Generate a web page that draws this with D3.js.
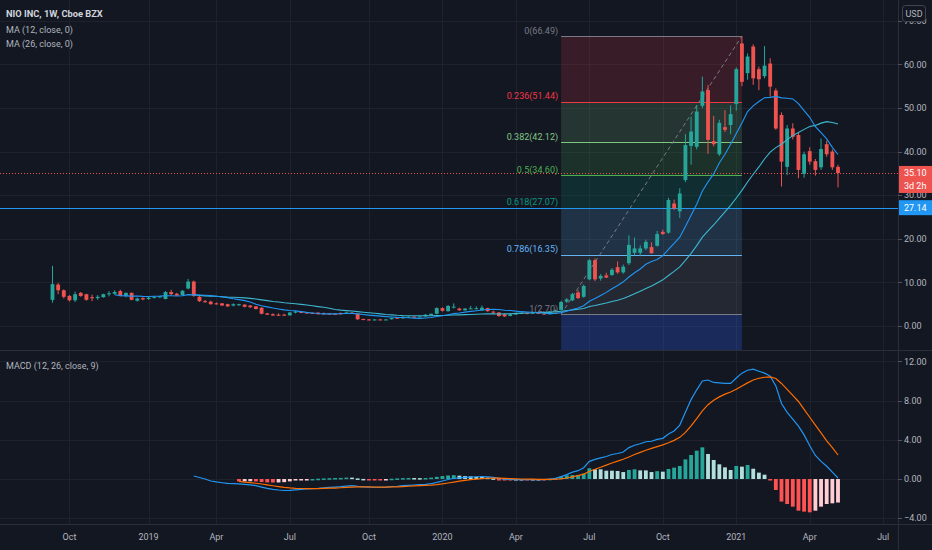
<!DOCTYPE html>
<html>
<head>
<meta charset="utf-8">
<script src="https://cdn.jsdelivr.net/npm/d3@7"></script>
<style>
  html, body { margin: 0; padding: 0; background: #131722; }
  svg { display: block; font-family: Roboto, "Liberation Sans", sans-serif; }
</style>
</head>
<body>
<svg id="drawing_region"></svg>
<script>
// weekly bars, NIO INC 1W
const firstWeek = "2018-09-10";
const afterLastWeek = "2021-05-17";

const opens = [
  6.00, 9.50, 8.20, 6.90, 5.90, 7.60, 7.30, 6.60, 6.40, 6.60,
  7.30, 7.40, 8.00, 6.90, 7.60, 5.80, 6.40, 6.20, 6.50, 6.60,
  6.20, 7.80, 7.40, 7.10, 8.60, 10.20, 6.70, 5.70, 5.60, 5.20,
  5.20, 5.00, 4.70, 4.80, 4.90, 4.70, 4.50, 4.20, 2.90, 2.70,
  2.60, 2.60, 2.45, 3.20, 3.30, 3.10, 3.00, 3.05, 2.90, 2.85,
  2.80, 3.00, 2.95, 3.05, 2.85, 1.60, 1.50, 1.45, 1.50, 1.45,
  1.55, 1.90, 1.75, 2.05, 2.15, 2.10, 2.20, 2.45, 2.80, 4.10,
  3.40, 4.40, 4.00, 3.60, 4.00, 3.95, 3.60, 4.10, 3.30, 3.10,
  2.65, 2.30, 2.70, 2.85, 3.00, 2.90, 3.05, 2.85, 2.70, 3.30,
  3.70, 5.60, 5.90, 7.70, 6.70, 10.70, 15.10, 10.90, 11.60, 11.70,
  13.50, 12.30, 14.40, 16.80, 16.80, 17.80, 18.10, 18.40, 21.60, 21.40,
  28.10, 26.30, 33.50, 41.30, 41.10, 50.50, 54.10, 42.40, 39.40, 45.60,
  46.10, 50.90, 64.80, 58.00, 64.10, 58.90, 57.30, 60.20, 54.00, 48.40,
  36.50, 45.30, 43.80, 34.90, 40.10, 37.80, 36.40, 41.70, 40.00, 36.50
];
const highs = [
  13.80, 9.90, 8.40, 7.10, 7.90, 7.80, 7.40, 7.20, 7.10, 7.40,
  8.00, 8.20, 8.30, 7.70, 7.70, 6.50, 6.60, 6.70, 6.90, 6.90,
  8.00, 8.30, 7.60, 8.20, 10.80, 10.40, 6.90, 6.00, 5.80, 5.40,
  5.30, 5.10, 5.20, 5.10, 5.00, 4.80, 4.60, 4.30, 3.00, 2.90,
  2.90, 2.80, 3.20, 3.50, 3.40, 3.20, 3.10, 3.20, 3.10, 3.00,
  2.95, 3.10, 3.25, 3.20, 2.90, 1.70, 1.60, 1.60, 1.65, 1.60,
  1.95, 1.95, 2.15, 2.20, 2.25, 2.30, 2.70, 2.85, 4.30, 4.30,
  4.80, 5.20, 4.20, 4.10, 4.60, 4.50, 4.70, 4.20, 3.50, 3.20,
  2.90, 2.90, 3.00, 3.10, 3.10, 3.20, 3.20, 2.95, 3.40, 3.80,
  5.80, 6.40, 7.60, 8.20, 9.50, 15.40, 15.50, 11.90, 12.20, 13.30,
  14.80, 14.10, 20.80, 20.30, 18.50, 19.80, 19.20, 21.80, 22.10, 29.40,
  29.00, 31.60, 44.00, 48.00, 50.70, 57.20, 55.30, 48.20, 47.30, 49.50,
  50.60, 59.30, 66.49, 62.50, 64.60, 59.50, 64.20, 61.40, 54.50, 49.00,
  46.10, 46.50, 44.50, 40.00, 41.00, 38.30, 43.00, 42.50, 40.50, 37.00
];
const lows = [
  5.35, 7.30, 6.30, 5.60, 5.50, 6.70, 5.80, 5.70, 6.00, 6.50,
  6.80, 7.20, 6.80, 6.60, 5.90, 5.60, 5.90, 6.00, 6.30, 6.40,
  6.10, 7.10, 6.90, 7.00, 8.40, 6.70, 5.50, 5.30, 4.90, 4.90,
  4.60, 4.40, 4.50, 4.60, 4.30, 4.20, 3.80, 2.70, 2.55, 2.35,
  2.30, 2.35, 2.40, 2.90, 2.95, 2.85, 2.75, 2.65, 2.70, 2.70,
  2.65, 2.65, 2.90, 2.80, 1.40, 1.35, 1.32, 1.30, 1.35, 1.35,
  1.50, 1.70, 1.70, 1.95, 2.00, 2.05, 2.15, 2.35, 2.70, 3.30,
  3.30, 4.00, 3.50, 3.50, 3.90, 3.80, 3.50, 3.30, 2.70, 2.10,
  2.11, 2.25, 2.55, 2.75, 2.70, 2.80, 2.75, 2.60, 2.65, 3.20,
  3.60, 5.30, 5.70, 6.20, 6.50, 10.50, 10.30, 10.40, 11.00, 11.50,
  12.00, 12.00, 14.00, 16.20, 16.00, 17.40, 16.60, 18.20, 20.90, 21.20,
  26.60, 24.80, 33.00, 37.00, 40.50, 50.00, 39.50, 41.20, 39.00, 44.50,
  44.00, 49.40, 55.00, 56.50, 55.30, 54.10, 56.80, 52.60, 45.00, 32.00,
  34.60, 42.80, 33.90, 34.00, 37.00, 34.50, 35.80, 38.80, 35.80, 31.80
];
const closes = [
  9.60, 8.20, 6.70, 5.90, 7.30, 6.90, 6.00, 6.40, 6.70, 7.30,
  7.50, 7.80, 6.90, 7.60, 6.00, 6.30, 6.10, 6.50, 6.70, 6.80,
  7.80, 7.30, 7.00, 8.10, 10.20, 6.90, 5.70, 5.50, 5.00, 5.00,
  4.70, 4.50, 5.00, 5.00, 4.40, 4.30, 3.90, 2.80, 2.60, 2.40,
  2.45, 2.40, 3.10, 3.30, 3.00, 2.90, 2.80, 2.70, 2.85, 2.80,
  2.75, 2.70, 3.10, 2.90, 1.55, 1.45, 1.40, 1.50, 1.45, 1.50,
  1.85, 1.75, 2.10, 2.15, 2.10, 2.20, 2.60, 2.80, 4.10, 3.50,
  4.60, 4.45, 3.60, 4.00, 4.05, 4.10, 4.20, 3.40, 3.10, 2.30,
  2.20, 2.70, 2.85, 3.00, 2.85, 3.05, 2.80, 2.70, 3.30, 3.60,
  5.50, 6.10, 7.30, 6.40, 9.20, 15.10, 10.70, 11.50, 11.10, 12.90,
  12.30, 13.60, 18.60, 17.80, 17.80, 19.30, 16.70, 21.10, 21.10, 28.90,
  27.00, 30.40, 41.50, 44.60, 49.20, 53.80, 42.70, 41.70, 46.60, 45.00,
  48.60, 58.90, 56.00, 61.80, 56.80, 56.60, 59.70, 54.90, 45.30, 37.70,
  45.30, 43.40, 35.80, 39.40, 37.70, 35.80, 40.60, 39.40, 36.40, 35.10
];

// MA (12, close, 0), first value on bar 11
const ma12Start = 11;
const ma12 = [
  7.19, 6.97, 6.92, 6.86, 6.89, 6.79, 6.76, 6.82, 6.85, 6.94,
  6.94, 6.90, 6.93, 7.20, 7.14, 7.12, 7.05, 6.96, 6.83, 6.67,
  6.48, 6.24, 6.05, 5.83, 5.52, 4.99, 4.65, 4.39, 4.13, 3.92,
  3.70, 3.57, 3.47, 3.30, 3.13, 3.00, 2.86, 2.78, 2.78, 2.79,
  2.81, 2.87, 2.91, 2.78, 2.63, 2.49, 2.38, 2.26, 2.16, 2.08,
  1.99, 1.94, 1.89, 1.81, 1.75, 1.84, 1.95, 2.18, 2.34, 2.60,
  2.85, 3.00, 3.18, 3.35, 3.51, 3.68, 3.78, 3.83, 3.78, 3.63,
  3.56, 3.41, 3.29, 3.23, 3.15, 3.05, 2.93, 2.85, 2.87, 3.07,
  3.39, 3.81, 4.12, 4.65, 5.66, 6.31, 7.02, 7.71, 8.56, 9.31,
  10.14, 11.23, 12.21, 13.08, 14.16, 14.78, 15.28, 16.15, 17.60, 18.93,
  20.38, 22.82, 25.40, 27.95, 30.95, 33.03, 34.89, 37.38, 39.38, 41.67,
  44.17, 46.58, 49.20, 50.48, 51.48, 52.35, 52.44, 52.66, 52.33, 52.22,
  52.08, 51.02, 49.39, 47.87, 45.70, 44.35, 42.92, 40.98, 39.33
];
// MA (26, close, 0), first value on bar 25
const ma26Start = 25;
const ma26 = [
  7.17, 7.02, 6.92, 6.85, 6.82, 6.72, 6.63, 6.59, 6.53, 6.45,
  6.33, 6.19, 6.00, 5.83, 5.63, 5.50, 5.35, 5.23, 5.11, 4.97,
  4.82, 4.63, 4.45, 4.29, 4.08, 3.80, 3.64, 3.54, 3.44, 3.30,
  3.17, 3.04, 2.93, 2.79, 2.65, 2.56, 2.46, 2.39, 2.36, 2.34,
  2.34, 2.34, 2.36, 2.40, 2.40, 2.47, 2.53, 2.56, 2.61, 2.65,
  2.70, 2.76, 2.78, 2.78, 2.76, 2.79, 2.83, 2.89, 2.95, 3.00,
  3.06, 3.10, 3.13, 3.18, 3.24, 3.37, 3.52, 3.70, 3.84, 4.03,
  4.48, 4.71, 4.98, 5.27, 5.62, 5.93, 6.30, 6.85, 7.41, 7.97,
  8.63, 9.18, 9.89, 10.59, 11.59, 12.52, 13.57, 15.06, 16.67, 18.43,
  20.37, 21.80, 23.17, 24.68, 26.16, 27.68, 29.36, 31.10, 33.04, 34.80,
  36.48, 38.30, 39.89, 40.92, 41.68, 42.74, 43.67, 44.40, 45.10, 45.74,
  46.01, 46.53, 46.88, 46.68, 46.32
];

// MACD (12, 26, close, 9)
const macdStart = 25;
const macdLine = [
  0.31, 0.15, 0.00, -0.20, -0.30, -0.38, -0.45, -0.48, -0.50, -0.55,
  -0.60, -0.68, -0.82, -0.95, -1.05, -1.12, -1.17, -1.15, -1.10, -1.06,
  -1.02, -0.98, -0.95, -0.90, -0.86, -0.82, -0.78, -0.72, -0.68, -0.75,
  -0.80, -0.83, -0.84, -0.84, -0.83, -0.78, -0.74, -0.68, -0.64, -0.61,
  -0.58, -0.55, -0.48, -0.35, -0.20, -0.05, 0.08, 0.12, 0.16, 0.20,
  0.23, 0.25, 0.22, 0.17, 0.07, -0.02, -0.05, -0.06, -0.06, -0.07,
  -0.06, -0.06, -0.07, -0.02, 0.06, 0.25, 0.45, 0.70, 0.85, 1.15,
  1.80, 2.00, 2.15, 2.30, 2.50, 2.60, 2.75, 3.20, 3.45, 3.60,
  3.80, 3.85, 4.05, 4.15, 4.60, 4.90, 5.50, 6.80, 8.10, 9.10,
  10.00, 10.10, 9.85, 9.80, 9.75, 9.75, 10.30, 10.80, 11.10, 11.20,
  11.00, 10.80, 10.50, 9.50, 7.70, 6.80, 6.10, 5.40, 4.50, 3.40,
  2.40, 1.80, 1.30, 0.70, 0.10
];
const signalStart = 33;
const signalLine = [
  -0.25, -0.31, -0.37, -0.43, -0.51, -0.60, -0.69, -0.77, -0.85, -0.91,
  -0.95, -0.97, -0.98, -0.98, -0.98, -0.96, -0.94, -0.92, -0.89, -0.86,
  -0.82, -0.81, -0.81, -0.81, -0.82, -0.82, -0.82, -0.81, -0.80, -0.77,
  -0.74, -0.71, -0.67, -0.65, -0.62, -0.57, -0.50, -0.41, -0.31, -0.22,
  -0.14, -0.07, -0.01, 0.04, 0.08, 0.10, 0.09, 0.07, 0.04, 0.02,
  0.00, -0.01, -0.02, -0.03, -0.04, -0.04, -0.02, 0.02, 0.10, 0.22,
  0.35, 0.50, 0.76, 0.99, 1.20, 1.42, 1.63, 1.82, 2.01, 2.25,
  2.50, 2.72, 2.94, 3.12, 3.31, 3.48, 3.70, 3.94, 4.25, 4.76,
  5.43, 6.16, 6.95, 7.58, 8.03, 8.38, 8.66, 8.88, 9.16, 9.49,
  9.81, 10.10, 10.28, 10.38, 10.42, 10.25, 9.75, 9.15, 8.54, 7.91,
  7.10, 6.30, 5.50, 4.70, 3.90, 3.20, 2.45
];
const histogram = [
  -0.25, -0.24, -0.23, -0.25, -0.31, -0.35, -0.36, -0.35, -0.32, -0.24,
  -0.15, -0.09, -0.04, 0.00, 0.03, 0.06, 0.08, 0.10, 0.11, 0.14,
  0.14, 0.06, 0.01, -0.02, -0.02, -0.02, -0.01, 0.03, 0.06, 0.09,
  0.10, 0.10, 0.09, 0.10, 0.14, 0.22, 0.30, 0.36, 0.39, 0.34,
  0.30, 0.27, 0.22, 0.21, 0.14, 0.07, -0.02, -0.09, -0.09, -0.08,
  -0.06, -0.06, -0.04, -0.03, -0.03, 0.02, 0.08, 0.23, 0.38, 0.40,
  0.42, 0.55, 1.09, 0.99, 0.99, 0.85, 0.85, 0.82, 0.71, 0.92,
  0.99, 0.88, 0.88, 0.71, 0.80, 0.75, 1.02, 1.16, 1.33, 2.00,
  2.45, 2.89, 3.23, 2.55, 1.94, 1.50, 1.19, 0.92, 1.33, 1.26,
  1.43, 1.05, 0.65, 0.44, -0.10, -1.12, -2.30, -2.55, -2.82, -3.23,
  -3.33, -3.40, -3.23, -2.82, -2.55, -2.48, -2.40
];

// axes
const priceTicks = [0, 10, 20, 30, 40, 50, 60, 70];
const macdTicks = [-4, 0, 4, 8, 12];
const xTickLabels = ["Oct", "2019", "Apr", "Jul", "Oct", "2020", "Apr", "Jul", "Oct", "2021", "Apr", "Jul"];
const xTickDates = ["2018-10-01", "2019-01-07", "2019-04-01", "2019-07-01", "2019-10-07", "2020-01-06",
                    "2020-04-06", "2020-07-06", "2020-10-05", "2021-01-04", "2021-04-05", "2021-07-05"];

// fib retracement drawing
const fibFrom = "2020-06-01";
const fibTo = "2021-01-11";
const fibLevels = ["0", "0.236", "0.382", "0.5", "0.618", "0.786", "1"];
const fibPrices = [66.49, 51.44, 42.12, 34.60, 27.07, 16.35, 2.70];
const fibColors = ["#787b86", "#f23645", "#81c784", "#4caf50", "#089981", "#64b5f6", "#787b86", "#2962ff"];

const lastPrice = 35.10;
const countdown = "3d 2h";
const hLinePrice = 27.14;


class CandleChart {

  constructor(config, data) {
    this.config = {
      parent: config.parent,
      width: config.width || 932,
      height: config.height || 550,
      plotLeft: config.plotLeft || 52.5,
      plotRight: config.plotRight || 838,
      axisX: config.axisX || 898,
      fontSize: config.fontSize || '9px',
      pricePane: config.pricePane || {top: 0, bottom: 350},
      macdPane: config.macdPane || {top: 351, bottom: 524}
    };
    this.data = data;
    this.init();
  }

  init() {
    let self = this;
    let c = self.config;

    self.svg = d3.select(c.parent)
      .attr('width', c.width)
      .attr('height', c.height);

    self.svg.append('rect')
      .attr('width', c.width).attr('height', c.height)
      .attr('fill', '#131722');

    self.weeks = d3.utcMonday.range(new Date(firstWeek), new Date(afterLastWeek));

    self.xScale = d3.scaleUtc()
      .domain([self.weeks[0], self.weeks[self.weeks.length - 1]])
      .range([c.plotLeft, c.plotRight]);
    self.step = (c.plotRight - c.plotLeft) / (self.weeks.length - 1);

    self.yPrice = d3.scaleLinear()
      .domain([-5.5, 74.77])
      .range([c.pricePane.bottom, c.pricePane.top]);

    self.yMacd = d3.scaleLinear()
      .domain([-4.59, 13.06])
      .range([c.macdPane.bottom, c.macdPane.top]);

    let defs = self.svg.append('defs');
    defs.append('clipPath').attr('id', 'clipPrice')
      .append('rect').attr('x', 0).attr('y', c.pricePane.top)
      .attr('width', c.axisX).attr('height', c.pricePane.bottom - c.pricePane.top);
    defs.append('clipPath').attr('id', 'clipMacd')
      .append('rect').attr('x', 0).attr('y', c.macdPane.top)
      .attr('width', c.axisX).attr('height', c.macdPane.bottom - c.macdPane.top);

    self.grid = self.svg.append('g');
    self.price = self.svg.append('g').attr('clip-path', 'url(#clipPrice)');
    self.macd = self.svg.append('g').attr('clip-path', 'url(#clipMacd)');
    self.axes = self.svg.append('g').attr('font-size', c.fontSize);
  }

  update() {
    let self = this;
    self.bars = self.weeks.map((w, i) => ({
      date: w, open: opens[i], high: highs[i], low: lows[i], close: closes[i]
    }));
    self.render();
  }

  render() {
    let self = this;
    let c = self.config;
    const x = self.xScale, yp = self.yPrice, ym = self.yMacd;
    const up = '#26a69a', down = '#ef5350';
    const textCol = '#b2b5be';

    // grid
    self.grid.selectAll('.vgrid')
      .data(xTickDates)
      .join('line')
      .attr('x1', d => Math.round(x(new Date(d))) + 0.5)
      .attr('x2', d => Math.round(x(new Date(d))) + 0.5)
      .attr('y1', 0).attr('y2', c.macdPane.bottom)
      .attr('stroke', '#1e222d');
    self.grid.selectAll('.hgridp')
      .data(priceTicks)
      .join('line')
      .attr('x1', 0).attr('x2', c.axisX)
      .attr('y1', d => Math.round(yp(d)) + 0.5).attr('y2', d => Math.round(yp(d)) + 0.5)
      .attr('stroke', '#1e222d');
    self.grid.selectAll('.hgridm')
      .data(macdTicks)
      .join('line')
      .attr('class', 'hgridm')
      .attr('x1', 0).attr('x2', c.axisX)
      .attr('y1', d => Math.round(ym(d)) + 0.5).attr('y2', d => Math.round(ym(d)) + 0.5)
      .attr('stroke', '#1e222d');

    // fib retracement
    const fx1 = x(new Date(fibFrom)), fx2 = x(new Date(fibTo));
    const fibBands = fibPrices.map((p, i) => ({
      top: p,
      bottom: i < fibPrices.length - 1 ? fibPrices[i + 1] : -40,
      color: fibColors[i + 1],
      alpha: i < fibPrices.length - 1 ? 0.17 : 0.26
    }));
    self.price.selectAll('.fibband')
      .data(fibBands)
      .join('rect')
      .attr('class', 'fibband')
      .attr('x', fx1).attr('width', fx2 - fx1)
      .attr('y', d => yp(d.top))
      .attr('height', d => yp(d.bottom) - yp(d.top))
      .attr('fill', d => d.color)
      .attr('fill-opacity', d => d.alpha);
    self.price.selectAll('.fibline')
      .data(fibPrices)
      .join('line')
      .attr('class', 'fibline')
      .attr('x1', fx1).attr('x2', fx2)
      .attr('y1', d => Math.round(yp(d)) + 0.5).attr('y2', d => Math.round(yp(d)) + 0.5)
      .attr('stroke', (d, i) => fibColors[i])
      .attr('stroke-width', 1);
    self.price.append('line')
      .attr('x1', fx1).attr('y1', yp(fibPrices[fibPrices.length - 1]))
      .attr('x2', fx2).attr('y2', yp(fibPrices[0]))
      .attr('stroke', '#787b86')
      .attr('stroke-dasharray', '4,3')
      .attr('stroke-width', 1);

    // horizontal line and last price line
    self.price.append('line')
      .attr('x1', 0).attr('x2', c.axisX)
      .attr('y1', Math.round(yp(hLinePrice)) + 0.5).attr('y2', Math.round(yp(hLinePrice)) + 0.5)
      .attr('stroke', '#2196f3').attr('stroke-width', 1.2);
    self.price.append('line')
      .attr('x1', 0).attr('x2', c.axisX)
      .attr('y1', Math.round(yp(lastPrice)) + 0.5).attr('y2', Math.round(yp(lastPrice)) + 0.5)
      .attr('stroke', down).attr('stroke-dasharray', '1,2');

    // candles
    const bw = self.step * 0.68;
    let candles = self.price.selectAll('.candle')
      .data(self.bars)
      .join('g')
      .attr('class', 'candle');
    candles.append('line')
      .attr('x1', d => x(d.date)).attr('x2', d => x(d.date))
      .attr('y1', d => yp(d.high)).attr('y2', d => yp(d.low))
      .attr('stroke', d => d.close >= d.open ? up : down)
      .attr('stroke-width', 1);
    candles.append('rect')
      .attr('x', d => x(d.date) - bw / 2)
      .attr('width', bw)
      .attr('y', d => yp(Math.max(d.open, d.close)))
      .attr('height', d => Math.max(1, Math.abs(yp(d.open) - yp(d.close))))
      .attr('fill', d => d.close >= d.open ? up : down);

    // moving averages
    const ma = (vals, start) => vals.map((v, i) => ({date: self.weeks[start + i], v: v}));
    const priceLine = d3.line().x(d => x(d.date)).y(d => yp(d.v));
    self.price.append('path')
      .datum(ma(ma26, ma26Start))
      .attr('d', priceLine)
      .attr('fill', 'none').attr('stroke', '#3db8cf').attr('stroke-width', 1.1);
    self.price.append('path')
      .datum(ma(ma12, ma12Start))
      .attr('d', priceLine)
      .attr('fill', 'none').attr('stroke', '#2196f3').attr('stroke-width', 1.1);

    // fib labels
    self.price.selectAll('.fiblabel')
      .data(fibPrices)
      .join('text')
      .attr('class', 'fiblabel')
      .attr('x', fx1 - 3)
      .attr('y', d => yp(d) - 2.5)
      .attr('text-anchor', 'end')
      .attr('font-size', c.fontSize)
      .attr('fill', (d, i) => fibColors[i])
      .text((d, i) => `${fibLevels[i]}(${d.toFixed(2)})`);

    // MACD histogram
    const hist = histogram.map((v, i) => ({
      date: self.weeks[signalStart + i], v: v,
      prev: i > 0 ? histogram[i - 1] : 0
    }));
    const histColor = d => d.v >= 0
      ? (d.v > d.prev ? '#26a69a' : '#b2dfdb')
      : (d.v > d.prev ? '#ffcdd2' : '#ff5252');
    self.macd.selectAll('.hbar')
      .data(hist)
      .join('rect')
      .attr('class', 'hbar')
      .attr('x', d => x(d.date) - bw / 2)
      .attr('width', bw)
      .attr('y', d => Math.min(ym(0), ym(d.v)))
      .attr('height', d => Math.max(1.5, Math.abs(ym(d.v) - ym(0))))
      .attr('fill', histColor);

    const macdPath = d3.line().x(d => x(d.date)).y(d => ym(d.v));
    self.macd.append('path')
      .datum(ma(macdLine, macdStart))
      .attr('d', macdPath)
      .attr('fill', 'none').attr('stroke', '#2196f3').attr('stroke-width', 1.2);
    self.macd.append('path')
      .datum(ma(signalLine, signalStart))
      .attr('d', macdPath)
      .attr('fill', 'none').attr('stroke', '#ff6d00').attr('stroke-width', 1.2);

    // separators
    self.axes.append('line')
      .attr('x1', c.axisX + 0.5).attr('x2', c.axisX + 0.5)
      .attr('y1', 0).attr('y2', c.height)
      .attr('stroke', '#2a2e39');
    [c.pricePane.bottom, c.macdPane.bottom].forEach(yy => {
      self.axes.append('line')
        .attr('x1', 0).attr('x2', c.width)
        .attr('y1', yy + 0.5).attr('y2', yy + 0.5)
        .attr('stroke', '#2a2e39');
    });

    // price axis
    const priceAxis = self.axes.append('g').attr('transform', `translate(${c.axisX},0)`);
    priceAxis.selectAll('line')
      .data(priceTicks)
      .join('line')
      .attr('x1', 0).attr('x2', 4)
      .attr('y1', d => Math.round(yp(d)) + 0.5).attr('y2', d => Math.round(yp(d)) + 0.5)
      .attr('stroke', '#50535e');
    priceAxis.selectAll('text')
      .data(priceTicks)
      .join('text')
      .attr('x', 6).attr('y', d => yp(d))
      .attr('dy', '0.35em')
      .attr('fill', textCol)
      .text(d3.format('.2f'));

    const macdAxis = self.axes.append('g').attr('transform', `translate(${c.axisX},0)`);
    macdAxis.selectAll('line')
      .data(macdTicks)
      .join('line')
      .attr('x1', 0).attr('x2', 4)
      .attr('y1', d => Math.round(ym(d)) + 0.5).attr('y2', d => Math.round(ym(d)) + 0.5)
      .attr('stroke', '#50535e');
    macdAxis.selectAll('text')
      .data(macdTicks)
      .join('text')
      .attr('x', 6).attr('y', d => ym(d))
      .attr('dy', '0.35em')
      .attr('fill', textCol)
      .text(d => d3.format('.2f')(d).replace('-', '\u2212'));

    // USD badge
    self.axes.append('rect')
      .attr('x', c.axisX + 4.5).attr('y', 5.5).attr('width', 23).attr('height', 16).attr('rx', 3)
      .attr('fill', '#131722').attr('stroke', '#434651');
    self.axes.append('text')
      .attr('x', c.axisX + 16).attr('y', 13.5).attr('dy', '0.35em')
      .attr('text-anchor', 'middle').attr('fill', textCol)
      .text('USD');

    // price labels on the axis
    const lpY = yp(lastPrice);
    self.axes.append('rect')
      .attr('x', c.axisX + 1).attr('y', lpY - 7).attr('width', c.width - c.axisX - 1).attr('height', 27)
      .attr('fill', down);
    self.axes.append('text')
      .attr('x', c.axisX + 6).attr('y', lpY).attr('dy', '0.35em')
      .attr('fill', '#ffffff').text(lastPrice.toFixed(2));
    self.axes.append('text')
      .attr('x', c.axisX + 6).attr('y', lpY + 12.5).attr('dy', '0.35em')
      .attr('fill', '#ffffff').text(countdown);
    const hlY = yp(hLinePrice);
    self.axes.append('rect')
      .attr('x', c.axisX + 1).attr('y', hlY - 7.5).attr('width', c.width - c.axisX - 1).attr('height', 15)
      .attr('fill', '#2196f3');
    self.axes.append('text')
      .attr('x', c.axisX + 6).attr('y', hlY).attr('dy', '0.35em')
      .attr('fill', '#ffffff').text(hLinePrice.toFixed(2));

    // time axis
    self.axes.selectAll('.xlabel')
      .data(xTickDates)
      .join('text')
      .attr('class', 'xlabel')
      .attr('x', d => x(new Date(d)))
      .attr('y', 537).attr('dy', '0.35em')
      .attr('text-anchor', 'middle')
      .attr('fill', textCol)
      .text((d, i) => xTickLabels[i]);

    // legends
    self.axes.append('text')
      .attr('x', 6).attr('y', 14).attr('dy', '0.35em')
      .attr('font-size', '9.3px').attr('font-weight', 'bold').attr('fill', '#d1d4dc')
      .text('NIO INC, 1W, Cboe BZX');
    self.axes.append('text')
      .attr('x', 6).attr('y', 30).attr('dy', '0.35em')
      .attr('fill', textCol)
      .text('MA (12, close, 0)');
    self.axes.append('text')
      .attr('x', 6).attr('y', 44).attr('dy', '0.35em')
      .attr('fill', textCol)
      .text('MA (26, close, 0)');
    self.axes.append('text')
      .attr('x', 6).attr('y', 366).attr('dy', '0.35em')
      .attr('fill', textCol)
      .text('MACD (12, 26, close, 9)');
  }
}

let chart = new CandleChart({
  parent: '#drawing_region',
  width: 932,
  height: 550
}, null);
chart.update();
</script>
</body>
</html>
